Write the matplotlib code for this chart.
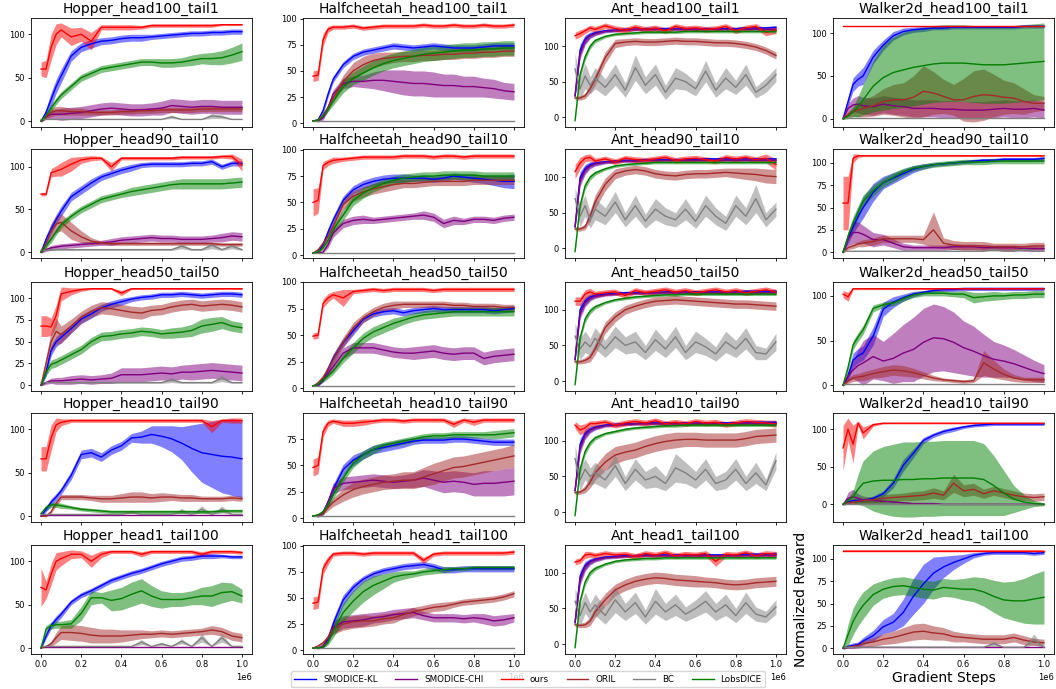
import numpy as np
import matplotlib.pyplot as plt

steps = [0, 25e3, 50e3, 75e3, 1e5, 1.5e5, 2e5, 2.5e5, 3e5, 3.5e5, 4e5, 4.5e5,
         5e5, 5.5e5, 6e5, 6.5e5, 7e5, 7.5e5, 8e5, 8.5e5, 9e5, 9.5e5, 1e6]

methods = ["SMODICE-KL", "SMODICE-CHI", "ours", "ORIL", "BC", "LobsDICE"]
colors = ["blue", "purple", "red", "brown", "gray", "green"]
envs = ["Hopper", "Halfcheetah", "Ant", "Walker2d"]
splits = [(100, 1), (90, 10), (50, 50), (10, 90), (1, 100)]

# ---------------- Hopper ----------------
hop100_kl = [0, 10, 25, 40, 52, 75, 85, 89, 92, 93, 95, 96, 96, 97, 98, 99, 100, 101, 101, 102, 102, 103, 103]
hop100_kl_sd = [1, 5, 8, 8, 8, 6, 5, 5, 4, 4, 4, 4, 4, 3, 3, 3, 3, 3, 3, 3, 3, 3, 3]
hop100_chi = [0, 5, 8, 8, 8, 9, 10, 12, 14, 15, 14, 13, 13, 14, 15, 18, 17, 16, 17, 17, 16, 16, 16]
hop100_chi_sd = [1, 3, 5, 6, 7, 7, 7, 7, 7, 7, 7, 7, 7, 7, 8, 8, 8, 8, 8, 8, 8, 8, 8]
hop100_ours = [60, 60, 85, 100, 105, 97, 100, 92, 108, 108, 108, 108, 108, 110, 110, 110, 110, 110, 110, 110, 111, 111, 111]
hop100_ours_sd = [8, 10, 15, 12, 8, 10, 8, 10, 3, 3, 3, 3, 2, 2, 2, 2, 2, 2, 2, 2, 1, 1, 1]
hop100_oril = [0, 6, 10, 12, 12, 11, 11, 10, 10, 10, 11, 11, 12, 12, 13, 13, 13, 13, 14, 14, 14, 14, 14]
hop100_oril_sd = [1, 3, 5, 5, 5, 4, 4, 3, 3, 3, 3, 3, 3, 3, 3, 3, 3, 3, 3, 3, 3, 3, 3]
hop100_bc = [2, 2, 2, 2, 2, 2, 2, 2, 2, 2, 2, 2, 2, 2, 2, 5, 2, 2, 2, 6, 5, 2, 2]
hop100_bc_sd = [0, 0, 0, 0, 0, 0, 0, 0, 0, 0, 0, 0, 0, 0, 0, 2, 0, 0, 0, 3, 2, 0, 0]
hop100_lobs = [0, 7, 15, 23, 30, 40, 50, 55, 60, 62, 64, 66, 68, 68, 67, 67, 68, 70, 72, 72, 73, 76, 80]
hop100_lobs_sd = [1, 3, 4, 4, 4, 4, 4, 4, 4, 4, 4, 4, 4, 4, 5, 5, 5, 6, 6, 7, 8, 9, 10]

hop90_kl = [0, 15, 27, 38, 48, 65, 73, 81, 88, 92, 96, 99, 102, 103, 103, 103, 103, 104, 104, 106, 100, 104, 104]
hop90_kl_sd = [1, 5, 6, 6, 6, 5, 5, 5, 4, 4, 4, 4, 3, 3, 3, 3, 3, 3, 3, 3, 3, 3, 3]
hop90_chi = [0, 3, 5, 6, 7, 8, 9, 10, 11, 12, 14, 15, 16, 17, 16, 16, 15, 15, 15, 16, 17, 19, 18]
hop90_chi_sd = [1, 2, 3, 3, 3, 3, 3, 3, 3, 4, 4, 4, 4, 4, 4, 4, 4, 4, 4, 4, 5, 5, 5]
hop90_ours = [68, 68, 93, 95, 97, 103, 108, 110, 110, 100, 110, 110, 110, 110, 110, 110, 111, 111, 111, 111, 112, 112, 102]
hop90_ours_sd = [2, 2, 5, 6, 8, 8, 4, 3, 2, 5, 2, 2, 2, 2, 2, 2, 2, 2, 2, 2, 2, 3, 7]
hop90_oril = [0, 10, 25, 33, 35, 25, 18, 13, 11, 10, 10, 10, 10, 10, 10, 10, 10, 10, 10, 10, 9, 9, 9]
hop90_oril_sd = [1, 5, 8, 10, 10, 10, 7, 4, 2, 2, 2, 2, 2, 2, 2, 2, 2, 2, 2, 2, 2, 2, 2]
hop90_bc = [2, 2, 3, 3, 3, 3, 3, 3, 3, 3, 3, 3, 3, 3, 3, 3, 7, 3, 3, 8, 3, 7, 3]
hop90_bc_sd = [0, 0, 1, 1, 1, 1, 1, 1, 1, 1, 1, 1, 1, 1, 1, 1, 3, 1, 1, 4, 1, 3, 1]
hop90_lobs = [0, 8, 15, 24, 32, 42, 50, 56, 62, 65, 68, 71, 73, 75, 77, 79, 80, 80, 80, 80, 80, 81, 82]
hop90_lobs_sd = [1, 3, 4, 4, 4, 4, 4, 4, 4, 4, 4, 5, 5, 5, 5, 5, 6, 6, 6, 6, 6, 6, 6]

hop50_kl = [0, 15, 40, 50, 55, 65, 76, 82, 89, 93, 96, 99, 101, 102, 104, 104, 105, 104, 103, 104, 105, 105, 104]
hop50_kl_sd = [1, 5, 6, 6, 6, 5, 5, 5, 4, 4, 4, 3, 3, 3, 3, 3, 3, 3, 3, 3, 3, 3, 3]
hop50_chi = [0, 3, 5, 5, 5, 6, 7, 6, 7, 8, 12, 12, 12, 13, 14, 13, 15, 15, 16, 17, 16, 15, 14]
hop50_chi_sd = [1, 2, 3, 4, 4, 5, 5, 5, 5, 6, 8, 8, 8, 8, 8, 8, 8, 9, 9, 9, 9, 9, 9]
hop50_ours = [68, 68, 67, 80, 105, 108, 110, 111, 111, 111, 106, 111, 111, 111, 111, 111, 111, 111, 111, 111, 111, 111, 111]
hop50_ours_sd = [12, 12, 10, 12, 8, 4, 2, 1, 1, 1, 3, 1, 1, 1, 1, 1, 1, 1, 1, 1, 1, 1, 1]
hop50_oril = [0, 25, 50, 62, 58, 68, 78, 85, 89, 88, 86, 84, 83, 86, 87, 90, 92, 93, 91, 92, 93, 92, 90]
hop50_oril_sd = [1, 8, 12, 15, 10, 8, 7, 7, 7, 7, 7, 7, 7, 6, 6, 6, 6, 6, 6, 6, 6, 6, 6]
hop50_bc = [3, 3, 3, 3, 3, 3, 3, 3, 3, 3, 3, 3, 3, 3, 3, 6, 3, 3, 3, 3, 8, 3, 3]
hop50_bc_sd = [0, 0, 0, 0, 0, 1, 1, 1, 1, 1, 1, 1, 1, 1, 1, 3, 1, 1, 1, 1, 4, 1, 1]
hop50_lobs = [0, 15, 24, 26, 29, 35, 41, 50, 56, 57, 59, 60, 62, 61, 59, 60, 61, 63, 68, 70, 72, 68, 66]
hop50_lobs_sd = [1, 4, 5, 5, 5, 5, 5, 5, 5, 5, 5, 5, 5, 5, 5, 6, 6, 7, 8, 8, 7, 6, 6]

hop10_kl = [0, 8, 16, 22, 29, 47, 71, 73, 68, 76, 81, 90, 91, 94, 92, 89, 84, 78, 73, 71, 69, 68, 66]
hop10_kl_sd = [1, 3, 4, 4, 4, 5, 5, 5, 5, 5, 5, 5, 7, 10, 12, 15, 19, 27, 34, 38, 42, 44, 45]
hop10_chi = [1, 1, 1, 1, 1, 1, 1, 1, 1, 1, 1, 1, 1, 1, 1, 1, 1, 1, 1, 1, 1, 1, 1]
hop10_chi_sd = [0, 0, 0, 0, 0, 0, 0, 0, 0, 0, 0, 0, 0, 0, 0, 0, 0, 0, 0, 0, 0, 0, 0]
hop10_ours = [66, 66, 90, 105, 108, 110, 110, 110, 110, 110, 110, 110, 110, 110, 110, 110, 110, 110, 110, 103, 110, 110, 110]
hop10_ours_sd = [14, 14, 15, 8, 4, 2, 2, 2, 2, 2, 2, 2, 2, 2, 2, 2, 2, 2, 2, 7, 2, 3, 3]
hop10_oril = [0, 0, 5, 15, 22, 22, 22, 21, 20, 20, 21, 22, 22, 21, 22, 22, 21, 21, 20, 20, 20, 21, 20]
hop10_oril_sd = [0, 1, 2, 3, 3, 3, 3, 3, 4, 4, 5, 6, 6, 5, 5, 4, 4, 4, 3, 3, 3, 3, 3]
hop10_bc = [2, 2, 2, 2, 2, 2, 2, 2, 2, 2, 2, 5, 2, 2, 2, 2, 6, 2, 8, 2, 8, 2, 2]
hop10_bc_sd = [0, 0, 0, 0, 0, 0, 0, 0, 0, 0, 0, 2, 0, 0, 0, 0, 3, 0, 4, 0, 4, 0, 0]
hop10_lobs = [3, 10, 13, 13, 12, 10, 8, 7, 6, 5, 5, 5, 5, 5, 5, 5, 5, 5, 5, 5, 6, 6, 6]
hop10_lobs_sd = [1, 3, 3, 3, 3, 2, 2, 2, 2, 2, 2, 2, 2, 2, 2, 2, 2, 2, 2, 2, 2, 2, 2]

hop1_kl = [0, 14, 26, 33, 39, 53, 61, 66, 72, 78, 82, 86, 89, 93, 97, 100, 103, 104, 106, 106, 106, 105, 105]
hop1_kl_sd = [1, 3, 4, 4, 4, 3, 3, 3, 3, 3, 3, 3, 3, 3, 3, 3, 3, 3, 3, 3, 2, 2, 2]
hop1_chi = [1, 1, 1, 1, 1, 1, 1, 1, 1, 1, 1, 1, 1, 1, 1, 1, 1, 1, 1, 1, 1, 1, 1]
hop1_chi_sd = [0, 0, 0, 0, 0, 0, 0, 0, 0, 0, 0, 0, 0, 0, 0, 0, 0, 0, 0, 0, 0, 0, 0]
hop1_ours = [70, 67, 85, 100, 103, 108, 108, 100, 108, 111, 111, 111, 108, 111, 111, 111, 111, 111, 108, 111, 111, 111, 110]
hop1_ours_sd = [22, 10, 12, 10, 8, 5, 4, 7, 4, 2, 2, 2, 3, 2, 2, 2, 2, 2, 3, 2, 2, 2, 2]
hop1_oril = [0, 2, 5, 12, 18, 18, 17, 15, 14, 14, 14, 15, 16, 16, 17, 16, 17, 18, 19, 21, 19, 14, 12]
hop1_oril_sd = [0, 1, 3, 6, 8, 9, 9, 9, 8, 8, 7, 6, 5, 4, 4, 4, 4, 4, 4, 5, 5, 5, 5]
hop1_bc = [2, 2, 2, 2, 2, 2, 2, 2, 2, 2, 2, 2, 7, 2, 5, 2, 8, 2, 12, 2, 12, 2, 2]
hop1_bc_sd = [0, 0, 0, 0, 0, 0, 0, 0, 0, 0, 0, 0, 3, 0, 2, 0, 3, 0, 5, 0, 5, 0, 0]
hop1_lobs = [0, 22, 26, 27, 27, 28, 40, 58, 58, 55, 57, 62, 66, 60, 56, 56, 56, 58, 60, 60, 64, 65, 60]
hop1_lobs_sd = [1, 4, 4, 4, 4, 5, 8, 8, 6, 12, 13, 14, 14, 12, 10, 8, 8, 8, 10, 12, 12, 10, 8]

# ---------------- Halfcheetah ----------------
hc100_kl = [2, 3, 12, 28, 42, 56, 64, 68, 70, 72, 74, 73, 72, 73, 74, 73, 72, 72, 72, 73, 74, 74, 74]
hc100_kl_sd = [0, 1, 3, 3, 3, 3, 3, 3, 3, 3, 3, 3, 3, 3, 3, 3, 3, 3, 3, 3, 3, 3, 3]
hc100_chi = [2, 2, 5, 15, 28, 38, 40, 40, 41, 41, 40, 39, 38, 38, 37, 36, 36, 35, 35, 34, 33, 31, 30]
hc100_chi_sd = [0, 1, 2, 3, 4, 5, 5, 6, 8, 10, 11, 12, 12, 12, 12, 11, 11, 10, 10, 9, 9, 8, 8]
hc100_ours = [45, 46, 80, 90, 92, 92, 93, 91, 92, 93, 93, 93, 93, 94, 93, 93, 94, 93, 93, 94, 93, 93, 94]
hc100_ours_sd = [5, 5, 6, 3, 2, 2, 2, 2, 2, 2, 2, 2, 2, 2, 2, 2, 2, 2, 2, 2, 2, 2, 2]
hc100_oril = [2, 3, 8, 15, 24, 40, 50, 56, 60, 62, 63, 64, 64, 65, 65, 66, 66, 67, 67, 68, 68, 69, 69]
hc100_oril_sd = [0, 1, 2, 3, 4, 6, 8, 8, 7, 6, 5, 5, 5, 5, 5, 5, 5, 5, 5, 5, 5, 5, 5]
hc100_bc = [2, 2, 2, 2, 2, 2, 2, 2, 2, 2, 2, 2, 2, 2, 2, 2, 2, 2, 2, 2, 2, 2, 2]
hc100_bc_sd = [0, 0, 0, 0, 0, 0, 0, 0, 0, 0, 0, 0, 0, 0, 0, 0, 0, 0, 0, 0, 0, 0, 0]
hc100_lobs = [2, 3, 7, 14, 21, 35, 43, 48, 53, 57, 60, 62, 64, 66, 67, 68, 69, 70, 70, 71, 71, 72, 72]
hc100_lobs_sd = [0, 1, 2, 3, 4, 6, 6, 7, 7, 7, 7, 7, 7, 7, 7, 7, 7, 7, 7, 7, 7, 7, 7]

hc90_kl = [2, 3, 10, 22, 33, 52, 62, 67, 70, 72, 73, 73, 73, 73, 72, 73, 75, 74, 73, 72, 71, 70, 70]
hc90_kl_sd = [0, 1, 3, 4, 4, 4, 4, 4, 4, 4, 4, 4, 3, 3, 3, 3, 3, 3, 4, 4, 5, 6, 7]
hc90_chi = [2, 2, 3, 10, 21, 30, 33, 34, 33, 34, 35, 36, 37, 38, 36, 30, 33, 32, 34, 34, 33, 35, 36]
hc90_chi_sd = [0, 0, 1, 3, 4, 4, 4, 4, 3, 3, 3, 3, 3, 4, 4, 4, 4, 3, 3, 3, 3, 3, 3]
hc90_ours = [50, 52, 85, 88, 90, 91, 92, 93, 93, 93, 93, 94, 94, 94, 93, 94, 94, 93, 94, 94, 94, 94, 94]
hc90_ours_sd = [13, 12, 4, 3, 3, 2, 2, 2, 2, 2, 2, 2, 2, 2, 2, 2, 2, 2, 2, 2, 2, 2, 2]
hc90_oril = [2, 5, 11, 18, 27, 48, 56, 60, 63, 65, 67, 68, 68, 69, 70, 70, 70, 70, 71, 71, 71, 71, 71]
hc90_oril_sd = [0, 2, 3, 4, 5, 5, 5, 5, 5, 5, 5, 4, 4, 4, 4, 4, 4, 4, 4, 4, 4, 4, 4]
hc90_bc = [2, 2, 2, 2, 2, 2, 2, 2, 2, 2, 2, 2, 2, 2, 2, 2, 2, 2, 2, 2, 2, 2, 2]
hc90_bc_sd = [0, 0, 0, 0, 0, 0, 0, 0, 0, 0, 0, 0, 0, 0, 0, 0, 0, 0, 0, 0, 0, 0, 0]
hc90_lobs = [2, 3, 7, 14, 24, 38, 52, 59, 64, 68, 71, 73, 74, 75, 75, 76, 76, 76, 76, 75, 75, 75, 75]
hc90_lobs_sd = [0, 1, 2, 3, 4, 5, 5, 5, 4, 4, 4, 4, 4, 4, 4, 4, 4, 4, 4, 4, 4, 4, 4]

hc50_kl = [2, 3, 8, 18, 28, 43, 54, 65, 70, 72, 73, 71, 73, 74, 75, 74, 74, 74, 74, 74, 73, 74, 75]
hc50_kl_sd = [0, 1, 2, 3, 4, 4, 4, 3, 3, 3, 3, 3, 3, 3, 3, 3, 3, 3, 3, 3, 3, 3, 3]
hc50_chi = [2, 3, 8, 14, 20, 33, 38, 38, 38, 36, 34, 33, 33, 34, 35, 33, 32, 33, 33, 28, 30, 31, 32]
hc50_chi_sd = [0, 1, 2, 3, 4, 5, 5, 5, 5, 5, 5, 5, 6, 6, 6, 6, 6, 6, 6, 6, 6, 6, 6]
hc50_ours = [49, 50, 80, 85, 88, 85, 91, 92, 93, 92, 93, 93, 93, 93, 92, 93, 93, 93, 93, 93, 93, 93, 93]
hc50_ours_sd = [3, 3, 4, 4, 3, 8, 2, 2, 2, 2, 2, 2, 2, 2, 2, 2, 2, 2, 2, 2, 2, 2, 2]
hc50_oril = [2, 5, 10, 18, 27, 43, 57, 66, 72, 76, 78, 79, 79, 79, 79, 79, 78, 78, 77, 77, 77, 76, 76]
hc50_oril_sd = [0, 2, 3, 4, 5, 5, 5, 4, 4, 4, 4, 3, 3, 3, 3, 3, 3, 3, 3, 3, 3, 3, 3]
hc50_bc = [2, 2, 2, 2, 2, 2, 2, 2, 2, 2, 2, 2, 2, 2, 2, 2, 2, 2, 2, 2, 2, 2, 2]
hc50_bc_sd = [0, 0, 0, 0, 0, 0, 0, 0, 0, 0, 0, 0, 0, 0, 0, 0, 0, 0, 0, 0, 0, 0, 0]
hc50_lobs = [2, 4, 8, 12, 16, 28, 38, 47, 53, 57, 61, 64, 67, 69, 70, 71, 72, 72, 72, 72, 72, 72, 72]
hc50_lobs_sd = [0, 1, 2, 3, 3, 4, 5, 5, 5, 5, 5, 4, 4, 4, 4, 4, 4, 4, 4, 4, 4, 4, 4]

hc10_kl = [2, 2, 6, 15, 27, 46, 55, 60, 65, 67, 69, 71, 73, 74, 74, 74, 75, 75, 74, 73, 72, 72, 72]
hc10_kl_sd = [0, 1, 2, 4, 5, 5, 5, 4, 4, 4, 4, 4, 3, 3, 3, 3, 3, 3, 3, 3, 3, 3, 3]
hc10_chi = [2, 2, 5, 15, 28, 33, 34, 35, 36, 35, 34, 35, 36, 38, 36, 34, 35, 34, 32, 33, 33, 34, 35]
hc10_chi_sd = [0, 1, 2, 4, 5, 6, 6, 6, 6, 6, 6, 6, 7, 8, 9, 10, 10, 10, 11, 12, 12, 13, 13]
hc10_ours = [48, 50, 82, 90, 92, 90, 90, 91, 92, 93, 93, 92, 93, 93, 93, 93, 89, 93, 91, 93, 93, 93, 93]
hc10_ours_sd = [8, 8, 5, 3, 2, 3, 3, 3, 2, 2, 2, 2, 2, 2, 2, 2, 3, 2, 3, 2, 2, 2, 2]
hc10_oril = [2, 3, 5, 10, 15, 22, 27, 30, 32, 34, 35, 36, 36, 39, 42, 45, 48, 49, 51, 53, 55, 57, 59]
hc10_oril_sd = [0, 1, 2, 3, 4, 6, 7, 7, 7, 7, 7, 8, 8, 9, 10, 10, 10, 10, 10, 10, 10, 10, 11]
hc10_bc = [2, 2, 2, 2, 2, 2, 2, 2, 2, 2, 2, 2, 2, 2, 2, 2, 2, 2, 2, 2, 2, 2, 2]
hc10_bc_sd = [0, 0, 0, 0, 0, 0, 0, 0, 0, 0, 0, 0, 0, 0, 0, 0, 0, 0, 0, 0, 0, 0, 0]
hc10_lobs = [2, 3, 6, 13, 22, 38, 52, 60, 65, 69, 71, 73, 75, 77, 78, 78, 79, 79, 79, 79, 79, 80, 81]
hc10_lobs_sd = [0, 1, 2, 3, 4, 4, 4, 4, 4, 3, 3, 3, 3, 3, 3, 3, 3, 3, 3, 3, 4, 4, 4]

hc1_kl = [2, 2, 3, 10, 25, 48, 60, 68, 73, 76, 78, 80, 81, 82, 80, 77, 77, 78, 78, 78, 78, 78, 78]
hc1_kl_sd = [0, 0, 1, 3, 5, 5, 4, 3, 3, 3, 3, 3, 3, 3, 3, 3, 3, 3, 3, 3, 3, 3, 3]
hc1_chi = [2, 2, 4, 12, 22, 27, 28, 29, 31, 32, 34, 35, 36, 33, 31, 31, 31, 30, 31, 30, 28, 29, 31]
hc1_chi_sd = [0, 1, 2, 4, 6, 6, 6, 6, 5, 5, 5, 5, 5, 4, 4, 4, 4, 4, 4, 5, 5, 5, 4]
hc1_ours = [45, 46, 78, 86, 92, 93, 93, 92, 93, 93, 93, 93, 93, 86, 92, 93, 93, 93, 93, 93, 93, 93, 94]
hc1_ours_sd = [6, 6, 5, 4, 2, 2, 2, 2, 2, 2, 2, 2, 2, 3, 2, 2, 2, 2, 2, 2, 2, 2, 2]
hc1_oril = [2, 4, 7, 12, 20, 25, 27, 28, 28, 30, 31, 34, 37, 39, 41, 42, 44, 46, 47, 48, 49, 51, 54]
hc1_oril_sd = [0, 1, 2, 3, 5, 6, 6, 6, 5, 5, 5, 4, 4, 4, 4, 4, 3, 3, 3, 3, 3, 3, 3]
hc1_bc = [2, 2, 2, 2, 2, 2, 2, 2, 2, 2, 2, 2, 2, 2, 2, 2, 2, 2, 2, 2, 2, 2, 2]
hc1_bc_sd = [0, 0, 0, 0, 0, 0, 0, 0, 0, 0, 0, 0, 0, 0, 0, 0, 0, 0, 0, 0, 0, 0, 0]
hc1_lobs = [2, 2, 3, 8, 18, 36, 47, 56, 62, 66, 70, 72, 73, 75, 76, 77, 78, 78, 79, 79, 79, 79, 79]
hc1_lobs_sd = [0, 0, 1, 3, 6, 9, 10, 10, 9, 7, 5, 4, 3, 3, 3, 3, 2, 2, 2, 2, 2, 2, 2]

# ---------------- Ant ----------------
ant100_kl = [30, 95, 110, 116, 119, 122, 123, 124, 124, 125, 125, 125, 125, 125, 125, 125, 125, 125, 125, 126, 126, 126, 127]
ant100_kl_sd = [2, 8, 6, 4, 3, 2, 2, 2, 2, 2, 2, 2, 2, 2, 2, 2, 2, 2, 2, 2, 2, 2, 2]
ant100_chi = [30, 90, 108, 115, 118, 121, 122, 123, 124, 124, 124, 124, 124, 124, 124, 124, 124, 124, 124, 124, 124, 124, 124]
ant100_chi_sd = [2, 8, 6, 4, 3, 2, 2, 2, 2, 2, 2, 2, 2, 2, 2, 2, 2, 2, 2, 2, 2, 2, 2]
ant100_ours = [115, 118, 122, 126, 124, 129, 125, 123, 127, 124, 126, 122, 128, 125, 126, 124, 125, 128, 122, 126, 128, 120, 123]
ant100_ours_sd = [5, 5, 4, 4, 4, 4, 4, 4, 4, 4, 4, 4, 4, 4, 4, 4, 4, 4, 4, 4, 4, 5, 5]
ant100_oril = [27, 27, 30, 40, 53, 84, 104, 106, 107, 106, 106, 107, 108, 107, 107, 106, 105, 105, 104, 102, 99, 94, 87]
ant100_oril_sd = [3, 3, 4, 6, 8, 8, 6, 5, 5, 5, 5, 5, 5, 5, 5, 5, 5, 5, 5, 5, 5, 5, 5]
ant100_bc = [68, 40, 58, 45, 55, 42, 60, 38, 70, 45, 60, 35, 55, 50, 40, 65, 38, 55, 42, 60, 35, 45, 60]
ant100_bc_sd = [22, 15, 18, 12, 15, 12, 15, 10, 18, 12, 15, 10, 15, 12, 10, 15, 10, 15, 10, 15, 8, 10, 10]
ant100_lobs = [-5, 60, 85, 100, 108, 114, 117, 118, 119, 120, 120, 120, 120, 121, 121, 121, 121, 121, 121, 121, 121, 121, 121]
ant100_lobs_sd = [2, 5, 5, 4, 3, 2, 2, 2, 2, 2, 2, 2, 2, 2, 2, 2, 2, 2, 2, 2, 2, 2, 2]

ant90_kl = [30, 100, 112, 118, 120, 122, 123, 124, 124, 125, 125, 125, 125, 125, 125, 126, 126, 126, 126, 126, 126, 126, 126]
ant90_kl_sd = [2, 8, 6, 4, 3, 2, 2, 2, 2, 2, 2, 2, 2, 2, 2, 2, 2, 2, 2, 2, 2, 2, 2]
ant90_chi = [30, 95, 110, 116, 119, 121, 122, 123, 123, 124, 124, 124, 124, 124, 124, 124, 124, 124, 124, 124, 124, 124, 124]
ant90_chi_sd = [2, 8, 6, 4, 3, 2, 2, 2, 2, 2, 2, 2, 2, 2, 2, 2, 2, 2, 2, 2, 2, 2, 2]
ant90_ours = [108, 120, 127, 128, 123, 126, 122, 127, 125, 124, 126, 128, 124, 126, 127, 125, 123, 128, 126, 128, 125, 127, 118]
ant90_ours_sd = [10, 8, 5, 5, 4, 4, 4, 4, 4, 4, 4, 4, 4, 4, 4, 4, 4, 4, 4, 4, 4, 6, 8]
ant90_oril = [27, 27, 30, 45, 65, 90, 105, 109, 111, 109, 105, 103, 102, 104, 105, 105, 106, 107, 106, 105, 104, 102, 101]
ant90_oril_sd = [3, 3, 4, 8, 10, 9, 7, 6, 6, 6, 6, 6, 6, 6, 6, 6, 6, 6, 7, 8, 9, 10, 10]
ant90_bc = [70, 45, 60, 40, 55, 45, 65, 40, 60, 38, 55, 45, 40, 55, 38, 60, 45, 35, 60, 45, 70, 40, 55]
ant90_bc_sd = [15, 15, 15, 12, 15, 12, 15, 10, 15, 10, 15, 12, 10, 15, 10, 15, 12, 10, 15, 12, 20, 10, 10]
ant90_lobs = [-5, 60, 88, 100, 106, 112, 116, 118, 119, 120, 121, 121, 121, 121, 121, 121, 121, 121, 121, 121, 121, 121, 121]
ant90_lobs_sd = [2, 5, 5, 4, 3, 2, 2, 2, 2, 2, 2, 2, 2, 2, 2, 2, 2, 2, 2, 2, 2, 2, 2]

ant50_kl = [30, 100, 112, 118, 120, 122, 123, 124, 124, 124, 124, 125, 125, 125, 125, 125, 125, 125, 125, 126, 126, 126, 126]
ant50_kl_sd = [2, 8, 6, 4, 3, 2, 2, 2, 2, 2, 2, 2, 2, 2, 2, 2, 2, 2, 2, 2, 2, 2, 2]
ant50_chi = [30, 95, 110, 116, 119, 121, 122, 123, 123, 124, 124, 124, 124, 124, 124, 124, 124, 124, 124, 124, 124, 124, 124]
ant50_chi_sd = [2, 8, 6, 4, 3, 2, 2, 2, 2, 2, 2, 2, 2, 2, 2, 2, 2, 2, 2, 2, 2, 2, 2]
ant50_ours = [112, 112, 122, 125, 122, 124, 125, 120, 127, 124, 126, 128, 125, 127, 124, 126, 128, 125, 127, 124, 126, 128, 125]
ant50_ours_sd = [6, 6, 6, 5, 4, 4, 4, 4, 4, 4, 4, 4, 4, 4, 4, 4, 4, 4, 4, 4, 4, 4, 4]
ant50_oril = [27, 27, 29, 33, 45, 75, 90, 100, 105, 109, 112, 113, 114, 113, 112, 111, 110, 109, 108, 108, 107, 106, 105]
ant50_oril_sd = [3, 3, 4, 6, 8, 8, 7, 6, 6, 6, 6, 6, 6, 6, 6, 6, 6, 6, 6, 6, 6, 6, 6]
ant50_bc = [63, 45, 55, 48, 60, 45, 62, 50, 55, 40, 58, 45, 62, 40, 55, 48, 38, 55, 45, 60, 40, 38, 55]
ant50_bc_sd = [18, 15, 15, 12, 15, 12, 15, 12, 15, 10, 15, 12, 15, 10, 15, 12, 10, 15, 12, 15, 10, 8, 12]
ant50_lobs = [-5, 60, 87, 98, 104, 110, 114, 116, 118, 119, 120, 121, 121, 122, 122, 122, 122, 122, 122, 122, 122, 122, 122]
ant50_lobs_sd = [2, 5, 5, 4, 3, 2, 2, 2, 2, 2, 2, 2, 2, 2, 2, 2, 2, 2, 2, 2, 2, 2, 2]

ant10_kl = [30, 95, 110, 116, 119, 122, 123, 124, 124, 125, 125, 125, 125, 125, 125, 125, 125, 125, 125, 126, 126, 126, 126]
ant10_kl_sd = [2, 8, 6, 4, 3, 2, 2, 2, 2, 2, 2, 2, 2, 2, 2, 2, 2, 2, 2, 2, 2, 2, 2]
ant10_chi = [30, 90, 108, 115, 118, 121, 122, 123, 124, 124, 124, 124, 124, 124, 124, 124, 124, 124, 124, 124, 124, 124, 124]
ant10_chi_sd = [2, 8, 6, 4, 3, 2, 2, 2, 2, 2, 2, 2, 2, 2, 2, 2, 2, 2, 2, 2, 2, 2, 2]
ant10_ours = [122, 115, 118, 124, 124, 126, 122, 125, 127, 125, 128, 124, 126, 124, 127, 125, 126, 123, 125, 127, 126, 125, 124]
ant10_ours_sd = [5, 7, 6, 4, 4, 4, 4, 4, 4, 4, 4, 4, 4, 4, 4, 4, 4, 4, 4, 4, 4, 4, 5]
ant10_oril = [27, 28, 32, 42, 55, 70, 80, 84, 87, 92, 96, 99, 101, 102, 102, 101, 101, 101, 101, 103, 106, 107, 108]
ant10_oril_sd = [3, 3, 5, 8, 10, 12, 12, 11, 11, 11, 11, 11, 11, 10, 10, 10, 10, 10, 10, 10, 10, 10, 10]
ant10_bc = [75, 45, 60, 50, 55, 45, 65, 40, 60, 45, 50, 40, 62, 55, 45, 60, 40, 45, 60, 40, 55, 38, 72]
ant10_bc_sd = [18, 15, 15, 12, 15, 12, 15, 10, 15, 12, 15, 10, 20, 15, 12, 15, 10, 12, 15, 10, 15, 8, 12]
ant10_lobs = [-5, 60, 85, 97, 104, 110, 113, 116, 118, 119, 120, 121, 121, 122, 122, 122, 122, 122, 122, 122, 122, 122, 122]
ant10_lobs_sd = [2, 5, 5, 4, 3, 2, 2, 2, 2, 2, 2, 2, 2, 2, 2, 2, 2, 2, 2, 2, 2, 2, 2]

ant1_kl = [30, 95, 110, 116, 119, 122, 123, 124, 124, 125, 125, 125, 125, 125, 125, 125, 125, 125, 125, 126, 126, 126, 127]
ant1_kl_sd = [2, 8, 6, 4, 3, 2, 2, 2, 2, 2, 2, 2, 2, 2, 2, 2, 2, 2, 2, 2, 2, 2, 2]
ant1_chi = [30, 90, 108, 115, 118, 121, 122, 123, 124, 124, 124, 124, 124, 124, 124, 124, 124, 124, 124, 124, 124, 124, 124]
ant1_chi_sd = [2, 8, 6, 4, 3, 2, 2, 2, 2, 2, 2, 2, 2, 2, 2, 2, 2, 2, 2, 2, 2, 2, 2]
ant1_ours = [115, 117, 125, 126, 124, 127, 125, 126, 123, 127, 125, 128, 124, 126, 125, 127, 116, 126, 125, 128, 124, 127, 126]
ant1_ours_sd = [4, 4, 5, 4, 4, 4, 4, 4, 4, 4, 4, 4, 4, 4, 4, 4, 7, 4, 4, 4, 4, 4, 4]
ant1_oril = [27, 26, 27, 32, 45, 62, 76, 83, 88, 91, 93, 92, 90, 89, 88, 87, 86, 84, 83, 84, 86, 87, 88]
ant1_oril_sd = [3, 3, 4, 6, 8, 9, 8, 8, 8, 8, 8, 8, 8, 8, 8, 7, 7, 7, 7, 7, 7, 7, 7]
ant1_bc = [60, 40, 58, 45, 55, 40, 62, 45, 58, 38, 60, 45, 55, 42, 50, 60, 45, 55, 40, 58, 42, 38, 52]
ant1_bc_sd = [18, 15, 15, 12, 15, 12, 18, 12, 15, 10, 18, 12, 15, 10, 12, 15, 12, 15, 10, 15, 10, 8, 10]
ant1_lobs = [-5, 60, 87, 100, 106, 112, 116, 118, 119, 120, 120, 121, 121, 121, 121, 121, 121, 121, 121, 121, 121, 121, 121]
ant1_lobs_sd = [2, 5, 5, 4, 3, 2, 2, 2, 2, 2, 2, 2, 2, 2, 2, 2, 2, 2, 2, 2, 2, 2, 2]

# ---------------- Walker2d ----------------
w100_kl = [0, 20, 40, 46, 50, 72, 86, 97, 102, 104, 105, 106, 106, 107, 107, 107, 107, 107, 107, 107, 108, 108, 108]
w100_kl_sd = [1, 5, 8, 8, 10, 8, 6, 5, 4, 3, 3, 2, 2, 2, 2, 2, 2, 2, 2, 2, 2, 2, 2]
w100_chi = [0, 12, 16, 17, 15, 14, 17, 15, 14, 12, 12, 12, 11, 11, 10, 10, 10, 11, 12, 11, 11, 12, 10]
w100_chi_sd = [1, 6, 8, 10, 10, 10, 10, 10, 10, 10, 10, 10, 10, 10, 10, 10, 10, 10, 10, 10, 10, 10, 10]
w100_ours = [108, 108, 108, 108, 108, 108, 108, 108, 108, 108, 108, 108, 108, 108, 108, 108, 108, 108, 108, 108, 108, 108, 108]
w100_ours_sd = [1, 1, 1, 1, 1, 1, 1, 1, 1, 1, 1, 1, 1, 1, 1, 1, 1, 1, 1, 1, 1, 1, 1]
w100_oril = [0, 5, 8, 10, 12, 15, 20, 22, 22, 25, 32, 30, 26, 22, 22, 26, 28, 27, 25, 24, 20, 18, 18]
w100_oril_sd = [1, 3, 5, 8, 10, 12, 15, 18, 20, 25, 30, 25, 20, 18, 25, 30, 30, 25, 20, 18, 15, 10, 8]
w100_bc = [1, 1, 1, 1, 1, 1, 1, 1, 1, 1, 1, 1, 1, 1, 1, 1, 1, 1, 1, 1, 1, 1, 1]
w100_bc_sd = [0, 0, 0, 0, 0, 0, 0, 0, 0, 0, 0, 0, 0, 0, 0, 0, 0, 0, 0, 0, 0, 0, 0]
w100_lobs = [0, 3, 8, 14, 22, 38, 48, 54, 57, 60, 62, 64, 65, 65, 65, 64, 63, 63, 63, 64, 65, 66, 67]
w100_lobs_sd = [1, 3, 6, 12, 18, 30, 38, 42, 44, 45, 45, 45, 45, 45, 45, 45, 45, 45, 45, 45, 45, 45, 45]

w90_kl = [0, 15, 28, 40, 50, 67, 78, 83, 88, 93, 96, 98, 99, 100, 101, 102, 103, 103, 104, 104, 104, 104, 105]
w90_kl_sd = [1, 5, 7, 10, 12, 10, 7, 6, 5, 4, 3, 2, 2, 2, 2, 2, 2, 2, 2, 2, 2, 2, 2]
w90_chi = [0, 15, 22, 22, 20, 14, 14, 10, 6, 5, 5, 5, 5, 6, 6, 6, 5, 5, 5, 5, 4, 4, 4]
w90_chi_sd = [1, 8, 12, 12, 10, 8, 6, 5, 4, 3, 3, 3, 3, 3, 3, 3, 3, 3, 3, 3, 3, 3, 3]
w90_ours = [55, 55, 105, 108, 108, 108, 108, 108, 108, 108, 108, 108, 108, 108, 108, 108, 108, 108, 108, 108, 108, 108, 108]
w90_ours_sd = [30, 30, 5, 2, 1, 1, 1, 1, 1, 1, 1, 1, 1, 1, 1, 1, 1, 1, 1, 1, 1, 1, 1]
w90_oril = [0, 5, 7, 9, 10, 12, 15, 15, 15, 15, 14, 25, 10, 8, 7, 7, 7, 6, 6, 6, 6, 7, 7]
w90_oril_sd = [1, 2, 3, 3, 4, 4, 4, 4, 4, 4, 5, 20, 6, 5, 5, 5, 5, 4, 4, 4, 4, 4, 4]
w90_bc = [1, 1, 1, 1, 1, 1, 1, 1, 1, 1, 1, 1, 1, 1, 1, 1, 1, 3, 1, 1, 3, 1, 1]
w90_bc_sd = [0, 0, 0, 0, 0, 0, 0, 0, 0, 0, 0, 0, 0, 0, 0, 0, 0, 2, 0, 0, 2, 0, 0]
w90_lobs = [0, 18, 33, 45, 57, 69, 78, 84, 90, 94, 96, 98, 99, 100, 101, 101, 101, 102, 102, 102, 102, 102, 102]
w90_lobs_sd = [1, 5, 7, 7, 7, 6, 5, 5, 4, 3, 3, 3, 3, 3, 3, 3, 3, 3, 3, 3, 3, 3, 3]

w50_kl = [0, 10, 28, 33, 36, 55, 85, 93, 98, 102, 104, 106, 107, 107, 108, 108, 108, 108, 108, 108, 108, 108, 108]
w50_kl_sd = [1, 5, 8, 8, 8, 10, 8, 6, 4, 3, 2, 2, 2, 2, 2, 2, 2, 2, 2, 2, 2, 2, 2]
w50_chi = [0, 10, 17, 22, 25, 32, 27, 30, 36, 40, 48, 53, 52, 48, 42, 38, 33, 29, 27, 24, 20, 16, 13]
w50_chi_sd = [1, 6, 10, 18, 25, 25, 22, 28, 32, 36, 38, 38, 36, 34, 30, 28, 24, 20, 18, 16, 14, 12, 10]
w50_ours = [102, 99, 108, 108, 108, 108, 108, 108, 108, 108, 108, 108, 108, 108, 108, 108, 108, 108, 108, 108, 108, 108, 108]
w50_ours_sd = [4, 5, 1, 1, 1, 1, 1, 1, 1, 1, 1, 1, 1, 1, 1, 1, 1, 1, 1, 1, 1, 1, 1]
w50_oril = [0, 5, 8, 9, 10, 13, 15, 17, 16, 14, 11, 8, 6, 5, 4, 5, 25, 18, 12, 8, 6, 6, 6]
w50_oril_sd = [1, 3, 4, 4, 5, 5, 6, 6, 6, 5, 4, 3, 2, 2, 2, 2, 14, 10, 6, 4, 3, 3, 3]
w50_bc = [1, 1, 1, 1, 1, 1, 1, 1, 1, 1, 1, 1, 1, 1, 1, 1, 1, 1, 1, 1, 1, 1, 1]
w50_bc_sd = [0, 0, 0, 0, 0, 0, 0, 0, 0, 0, 0, 0, 0, 0, 0, 0, 0, 0, 0, 0, 0, 0, 0]
w50_lobs = [0, 20, 45, 54, 62, 86, 90, 92, 97, 101, 103, 103, 103, 102, 102, 98, 99, 100, 100, 101, 101, 102, 102]
w50_lobs_sd = [1, 5, 5, 5, 5, 4, 3, 3, 3, 3, 3, 3, 3, 3, 4, 6, 5, 5, 4, 4, 4, 4, 4]

w10_kl = [0, 3, 5, 5, 5, 8, 14, 28, 52, 68, 85, 92, 97, 100, 103, 105, 106, 107, 107, 107, 107, 107, 107]
w10_kl_sd = [1, 2, 2, 2, 2, 3, 4, 6, 8, 6, 4, 3, 3, 3, 2, 2, 2, 2, 2, 2, 2, 2, 2]
w10_chi = [0, 8, 10, 8, 6, 5, 4, 3, 2, 1, 1, 1, 0, 0, 0, 0, 0, 0, 0, 0, 0, 0, 0]
w10_chi_sd = [1, 8, 10, 6, 5, 4, 3, 2, 2, 1, 1, 1, 1, 1, 1, 1, 1, 1, 1, 1, 1, 1, 1]
w10_ours = [75, 100, 80, 108, 95, 106, 108, 108, 108, 108, 108, 108, 108, 108, 108, 108, 108, 108, 108, 108, 108, 108, 108]
w10_ours_sd = [30, 15, 25, 3, 8, 2, 1, 1, 1, 1, 1, 1, 1, 1, 1, 1, 1, 1, 1, 1, 1, 1, 1]
w10_oril = [0, 2, 3, 4, 5, 6, 8, 9, 10, 11, 12, 15, 12, 28, 18, 20, 14, 18, 15, 12, 10, 9, 10]
w10_oril_sd = [1, 2, 2, 3, 3, 4, 5, 5, 5, 6, 6, 7, 6, 12, 8, 8, 6, 6, 6, 6, 5, 5, 5]
w10_bc = [1, 1, 1, 1, 1, 1, 1, 1, 1, 1, 1, 1, 1, 1, 1, 1, 1, 1, 1, 1, 1, 1, 1]
w10_bc_sd = [0, 0, 0, 0, 0, 0, 0, 0, 0, 0, 0, 0, 0, 0, 0, 0, 0, 0, 0, 0, 0, 0, 0]
w10_lobs = [0, 5, 10, 20, 28, 31, 32, 32, 33, 33, 34, 34, 35, 35, 35, 35, 33, 25, 15, 7, 3, 1, 0]
w10_lobs_sd = [1, 3, 8, 20, 30, 40, 45, 48, 50, 50, 50, 50, 50, 50, 50, 50, 48, 40, 30, 18, 10, 4, 2]

w1_kl = [0, 2, 3, 4, 8, 14, 24, 29, 40, 58, 72, 84, 91, 96, 100, 104, 106, 107, 107, 107, 107, 106, 107]
w1_kl_sd = [1, 2, 3, 3, 4, 6, 8, 10, 15, 20, 22, 18, 12, 8, 5, 3, 2, 2, 2, 2, 2, 2, 2]
w1_chi = [1, 1, 1, 1, 1, 1, 1, 1, 1, 1, 1, 1, 1, 1, 1, 1, 1, 1, 1, 1, 1, 1, 1]
w1_chi_sd = [0, 0, 0, 0, 0, 0, 0, 0, 0, 0, 0, 0, 0, 0, 0, 0, 0, 0, 0, 0, 0, 0, 0]
w1_ours = [109, 109, 109, 109, 109, 109, 109, 109, 109, 109, 109, 109, 109, 109, 109, 109, 109, 109, 109, 109, 109, 109, 109]
w1_ours_sd = [1, 1, 1, 1, 1, 1, 1, 1, 1, 1, 1, 1, 1, 1, 1, 1, 1, 1, 1, 1, 1, 1, 1]
w1_oril = [0, 1, 2, 3, 5, 7, 10, 12, 15, 18, 19, 17, 16, 13, 12, 11, 10, 10, 10, 12, 9, 7, 6]
w1_oril_sd = [1, 1, 2, 3, 4, 5, 6, 7, 8, 9, 9, 8, 7, 6, 5, 5, 5, 5, 5, 5, 5, 4, 4]
w1_bc = [1, 1, 1, 1, 1, 1, 1, 1, 1, 1, 1, 1, 1, 1, 1, 1, 1, 5, 1, 1, 1, 10, 1]
w1_bc_sd = [0, 0, 0, 0, 0, 0, 0, 0, 0, 0, 0, 0, 0, 0, 0, 0, 0, 3, 0, 0, 0, 6, 0]
w1_lobs = [0, 15, 30, 40, 48, 60, 66, 69, 70, 68, 66, 65, 68, 67, 66, 66, 63, 58, 54, 53, 53, 55, 57]
w1_lobs_sd = [1, 12, 15, 15, 15, 12, 10, 10, 10, 10, 10, 10, 10, 10, 12, 14, 16, 18, 20, 22, 25, 28, 30]

# per-panel table (rows: splits, cols: envs), method order as in `methods`
g = globals()
prefixes = {"Hopper": "hop", "Halfcheetah": "hc", "Ant": "ant", "Walker2d": "w"}
keys = ["kl", "chi", "ours", "oril", "bc", "lobs"]

yticks = {
    "Hopper": [[0, 50, 100], [0, 50, 100], [0, 25, 50, 75, 100], [0, 50, 100], [0, 50, 100]],
    "Halfcheetah": [[0, 25, 50, 75, 100]] * 3 + [[0, 25, 50, 75], [0, 25, 50, 75, 100]],
    "Ant": [[0, 50, 100]] * 5,
    "Walker2d": [[0, 50, 100], [0, 25, 50, 75, 100], [0, 50, 100], [0, 50, 100], [0, 25, 50, 75, 100]],
}

W, H = 1056, 689
col_left = [31, 303, 565, 833]
row_top = [18, 149, 282, 413, 545]
aw, ah = 221, 109

fig = plt.figure(figsize=(W / 100, H / 100), dpi=100)
handles = []
for c, env in enumerate(envs):
    for r, (hd, tl) in enumerate(splits):
        ax = fig.add_axes([col_left[c] / W, 1 - (row_top[r] + ah) / H, aw / W, ah / H])
        pre = prefixes[env] + str(hd)
        for k, key in enumerate(keys):
            m = np.array(g[f"{pre}_{key}"], dtype=float)
            s = np.array(g[f"{pre}_{key}_sd"], dtype=float)
            ln, = ax.plot(steps, m, color=colors[k], lw=1.0, label=methods[k])
            ax.fill_between(steps, m - s, m + s, color=colors[k], alpha=0.5, lw=0)
            if r == 0 and c == 0:
                handles.append(ln)
        ax.set_title(f"{env}_head{hd}_tail{tl}", fontsize=10, pad=3.5)
        ax.set_yticks(yticks[env][r])
        ax.set_xticks([0, 2e5, 4e5, 6e5, 8e5, 1e6])
        ax.tick_params(labelsize=6, length=2.5, width=0.6, pad=2)
        for sp in ax.spines.values():
            sp.set_linewidth(0.6)
        ax.xaxis.get_offset_text().set_fontsize(6)
        if r < 4:
            ax.tick_params(labelbottom=False)
            ax.xaxis.get_offset_text().set_visible(False)
        if r == 4 and c == 3:
            ax.set_xlabel("Gradient Steps", fontsize=10, labelpad=1)
            ax.set_ylabel("Normalized Reward", fontsize=10, labelpad=2)

fig.legend(handles, methods, loc="lower center", bbox_to_anchor=(0.5, 0.0),
           ncol=6, fontsize=6.3, handlelength=2.5, borderaxespad=0.2)
fig.savefig("out.png", dpi=100)
